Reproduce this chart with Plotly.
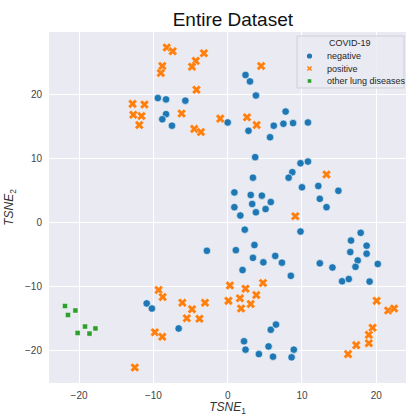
import plotly.graph_objects as go

# t-SNE embedding coordinates per class
neg_x = [2.4, 3.0, 3.8, -9.4, -8.3, -5.7, -8.3, -8.8, -7.5, 0.0, 2.8, 6.2, 7.5, 8.8, 10.8, 7.8, 5.7,
         3.7, 9.8, 10.8, 8.7, 8.2, 3.4, 10.0, 12.2, 14.9, 12.4, 13.3, 0.9, 3.1, 4.6, 3.3, 5.8, 0.9,
         1.7, 3.8, 5.1, 2.3, 9.8, -2.8, 1.1, 3.6, 3.4, 4.8, 6.4, 7.3, 2.0, 17.9, 16.6, 18.7, 16.5,
         18.7, 17.5, 12.4, 14.1, 17.2, 20.2, 8.5, 15.4, 16.3, 19.1, -10.9, -10.2, -6.6, 5.8, 6.5,
         2.2, 2.4, 5.5, 4.2, 6.1, 8.6, 8.9]
neg_y = [23.0, 22.0, 19.8, 19.4, 19.2, 19.0, 16.9, 16.1, 15.1, 15.6, 14.3, 15.1, 15.4, 15.5, 15.6,
         17.3, 13.3, 10.2, 9.25, 9.5, 7.85, 7.0, 7.0, 5.5, 5.7, 4.95, 3.7, 2.4, 4.7, 4.3, 4.2, 2.9,
         3.2, 2.4, 1.1, 1.6, 2.1, -1.1, -1.4, -4.4, -4.3, -3.5, -5.5, -6.2, -5.2, -6.25, -7.4, -1.6,
         -2.8, -3.6, -4.6, -4.85, -5.9, -6.35, -7.0, -6.9, -6.45, -8.3, -9.15, -8.8, -9.2, -12.6,
         -13.4, -16.5, -16.7, -15.9, -18.5, -19.8, -19.3, -20.5, -20.9, -21.0, -19.8]

pos_x = [-8.2, -7.4, -3.2, -4.3, -4.8, -8.8, -9.0, 4.5, -4.2, -12.8, -11.2, -12.7, -11.6, -11.9,
         -6.2, -1.0, 2.6, 3.9, -4.5, -3.6, 13.3, 9.1, -9.3, -8.75, -6.1, -4.8, -5.5, -3.8, -3.05,
         -9.8, -8.8, -12.5, 0.3, 0.1, 1.65, 1.8, 2.4, 3.1, 3.85, 4.75, 20.05, 21.6, 22.4, 19.5,
         19.0, 19.0, 17.3, 16.2]
pos_y = [27.3, 26.7, 26.4, 25.2, 24.3, 24.4, 23.3, 24.4, 20.7, 18.5, 18.4, 16.8, 16.6, 15.2, 17.0,
         16.2, 16.4, 15.2, 14.6, 14.1, 7.5, 1.0, -10.5, -11.6, -12.5, -13.5, -14.9, -15.0, -12.5,
         -17.1, -17.8, -22.6, -9.8, -12.2, -11.8, -13.4, -10.3, -12.7, -11.3, -9.4, -12.2, -13.7,
         -13.4, -16.4, -17.5, -18.8, -19.1, -20.5]

oth_x = [-21.9, -20.5, -21.5, -19.2, -17.8, -20.2, -18.6]
oth_y = [-13.0, -13.7, -14.4, -16.2, -16.5, -17.2, -17.3]

x_ticks = [-20, -10, 0, 10, 20]
y_ticks = [-20, -10, 0, 10, 20]

BLUE, ORANGE, GREEN = "#1f77b4", "#ff7f0e", "#2ca02c"
FONT = "Liberation Sans, Arial, sans-serif"

fig = go.Figure()
fig.add_trace(go.Scatter(x=neg_x, y=neg_y, mode="markers", name="negative", showlegend=False,
                         marker=dict(symbol="circle", size=7.5, color=BLUE,
                                     line=dict(color="white", width=0.6))))
fig.add_trace(go.Scatter(x=pos_x, y=pos_y, mode="markers", name="positive", showlegend=False,
                         marker=dict(symbol="x", size=8, color=ORANGE,
                                     line=dict(color="white", width=0.3))))
fig.add_trace(go.Scatter(x=oth_x, y=oth_y, mode="markers", name="other lung diseases",
                         showlegend=False,
                         marker=dict(symbol="square", size=5, color=GREEN,
                                     line=dict(color="white", width=0.4))))

# legend box, drawn in plot-area paper coordinates
L, R, T, B = 49, 406, 32, 383
W, H = R - L, B - T


def px(xp):
    return (xp - L) / W


def py(yp):
    return (B - yp) / H


shapes = [dict(type="rect", xref="paper", yref="paper",
               x0=px(297), x1=px(404), y0=py(88), y1=py(36),
               fillcolor="rgba(234,234,242,0.85)", line=dict(color="#cfcfd6", width=1))]
ann = [dict(text="COVID-19", xref="paper", yref="paper", x=px(350), y=py(42.5),
            showarrow=False, font=dict(size=9, color="#262626", family=FONT),
            xanchor="center", yanchor="middle")]
labels = ["negative", "positive", "other lung diseases"]
rows = [56, 68.5, 81]
for lab, ry in zip(labels, rows):
    ann.append(dict(text=lab, xref="paper", yref="paper", x=px(325), y=py(ry),
                    showarrow=False, font=dict(size=9, color="#262626", family=FONT),
                    xanchor="left", yanchor="middle"))
mx = px(309.5)
shapes.append(dict(type="circle", xref="paper", yref="paper", xsizemode="pixel",
                   ysizemode="pixel", xanchor=mx, yanchor=py(rows[0]),
                   x0=-2.6, x1=2.6, y0=-2.6, y1=2.6, fillcolor=BLUE, line=dict(width=0)))
shapes.append(dict(type="path", xref="paper", yref="paper", xsizemode="pixel",
                   ysizemode="pixel", xanchor=mx, yanchor=py(rows[1]),
                   path="M-2.6,-1.6 L-1.6,-2.6 L0,-1 L1.6,-2.6 L2.6,-1.6 L1,0 L2.6,1.6 L1.6,2.6 "
                        "L0,1 L-1.6,2.6 L-2.6,1.6 L-1,0 Z",
                   fillcolor=ORANGE, line=dict(width=0)))
shapes.append(dict(type="rect", xref="paper", yref="paper", xsizemode="pixel",
                   ysizemode="pixel", xanchor=mx, yanchor=py(rows[2]),
                   x0=-1.8, x1=1.8, y0=-1.8, y1=1.8, fillcolor=GREEN, line=dict(width=0)))

fig.update_layout(
    width=409, height=416,
    margin=dict(l=L, r=409 - R, t=T, b=416 - B),
    paper_bgcolor="white", plot_bgcolor="#eaeaf2",
    font=dict(family=FONT, color="#444444", size=10),
    title=dict(text="Entire Dataset", x=0.515, xref="paper", xanchor="center",
               y=1 - 19.5 / 416, yref="container", yanchor="middle",
               font=dict(size=19, color="#111111", family=FONT)),
    shapes=shapes, annotations=ann,
)
fig.update_xaxes(range=[-24.05, 24.0], tickvals=x_ticks, showgrid=True, gridcolor="white",
                 gridwidth=1, zeroline=False, showline=False, ticks="", ticklabelstandoff=5,
                 title=dict(text="<i>TSNE</i><sub>1</sub>", standoff=4,
                            font=dict(size=12, color="#333333")))
fig.update_yaxes(range=[-25.0, 29.7], tickvals=y_ticks, showgrid=True, gridcolor="white",
                 gridwidth=1, zeroline=False, showline=False, ticks="", ticklabelstandoff=6,
                 title=dict(text="<i>TSNE</i><sub>2</sub>", standoff=8,
                            font=dict(size=12, color="#333333")))

fig.write_html("out.html")
